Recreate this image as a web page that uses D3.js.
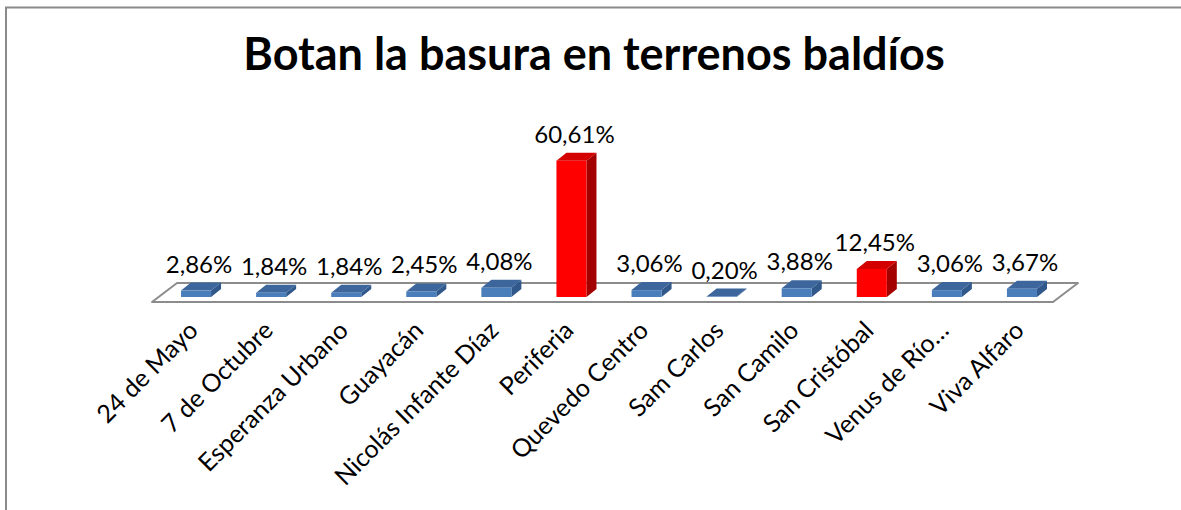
<!DOCTYPE html>
<html>
<head>
<meta charset="utf-8">
<script src="https://cdn.jsdelivr.net/npm/d3@7"></script>
<style>
  html, body { margin: 0; padding: 0; background: #ffffff; }
  svg { display: block; }
  text { font-family: Lato, "Open Sans", sans-serif; fill: #000; }
</style>
</head>
<body>
<svg id="chart" width="1181" height="510"></svg>
<script>
// Sectores y porcentaje de hogares que botan la basura en terrenos baldíos
const categories = [
  "24 de Mayo", "7 de Octubre", "Esperanza Urbano", "Guayacán",
  "Nicolás Infante Díaz", "Periferia", "Quevedo Centro", "Sam Carlos",
  "San Camilo", "San Cristóbal", "Venus de Río…", "Viva Alfaro"
];
const values = [2.86, 1.84, 1.84, 2.45, 4.08, 60.61, 3.06, 0.20, 3.88, 12.45, 3.06, 3.67];
const highlighted = ["Periferia", "San Cristóbal"];
const titleText = "Botan la basura en terrenos baldíos";

const svg = d3.select("#chart");
const W = 1181, H = 510;

// chart frame
svg.append("rect")
  .attr("x", 6).attr("y", 7.5)
  .attr("width", W + 10).attr("height", H + 10)
  .attr("fill", "#fff").attr("stroke", "#8a8a8a").attr("stroke-width", 2);

// title
svg.append("text")
  .attr("x", 594).attr("y", 70)
  .attr("text-anchor", "middle")
  .attr("font-weight", "bold")
  .attr("font-size", 45)
  .text(titleText);

// 3D floor geometry
const floorFrontY = 302, floorDepthX = 25, floorDepthY = 19;
const floorLeft = 152, floorRight = 1053;
const x = d3.scaleBand().domain(categories)
  .range([floorLeft, floorRight])
  .paddingInner(0.6).paddingOuter(0.3);
const y = d3.scaleLinear().domain([0, 70]).range([0, 157.4]);

// bar placement inside the depth of the floor
const barShiftX = 6.5, barShiftY = 5;     // front face of the bars
const barDX = 10, barDY = 8;              // bar depth
const baseY = floorFrontY - barShiftY;

svg.append("polygon")
  .attr("points", [
    [floorLeft, floorFrontY], [floorRight, floorFrontY],
    [floorRight + floorDepthX, floorFrontY - floorDepthY],
    [floorLeft + floorDepthX, floorFrontY - floorDepthY]
  ].map(p => p.join(",")).join(" "))
  .attr("fill", "#ffffff")
  .attr("stroke", "#8c8c8c")
  .attr("stroke-width", 2)
  .attr("stroke-linejoin", "round");

const palette = {
  blue: { front: "#4a7ebb", top: "#3d679c", side: "#30588a" },
  red:  { front: "#ff0000", top: "#d40000", side: "#a30000" }
};

const data = categories.map((c, i) => ({ cat: c, val: values[i] }));
const bw = x.bandwidth();

const bars = svg.append("g").selectAll("g").data(data).join("g");

bars.each(function(d) {
  const g = d3.select(this);
  const col = highlighted.includes(d.cat) ? palette.red : palette.blue;
  const x0 = x(d.cat) + barShiftX;
  const h = y(d.val);
  const yTop = baseY - h;
  // side face
  g.append("polygon")
    .attr("points", [[x0 + bw, yTop], [x0 + bw, baseY], [x0 + bw + barDX, baseY - barDY], [x0 + bw + barDX, yTop - barDY]].map(p => p.join(",")).join(" "))
    .attr("fill", col.side);
  // top face
  g.append("polygon")
    .attr("points", [[x0, yTop], [x0 + bw, yTop], [x0 + bw + barDX, yTop - barDY], [x0 + barDX, yTop - barDY]].map(p => p.join(",")).join(" "))
    .attr("fill", col.top);
  // front face
  g.append("rect")
    .attr("x", x0).attr("y", yTop)
    .attr("width", bw).attr("height", h)
    .attr("fill", col.front);
  // value label
  g.append("text")
    .attr("x", x0 + bw / 2 + 3)
    .attr("y", yTop - barDY - 10)
    .attr("text-anchor", "middle")
    .attr("font-size", 24)
    .text(d3.format(".2f")(d.val).replace(".", ",") + "%");
});

// category labels, rotated
svg.append("g").selectAll("text").data(categories).join("text")
  .attr("transform", c => `translate(${x(c) + bw / 2 + 10},${332}) rotate(-45)`)
  .attr("text-anchor", "end")
  .attr("font-size", 25)
  .text(c => c);
</script>
</body>
</html>
